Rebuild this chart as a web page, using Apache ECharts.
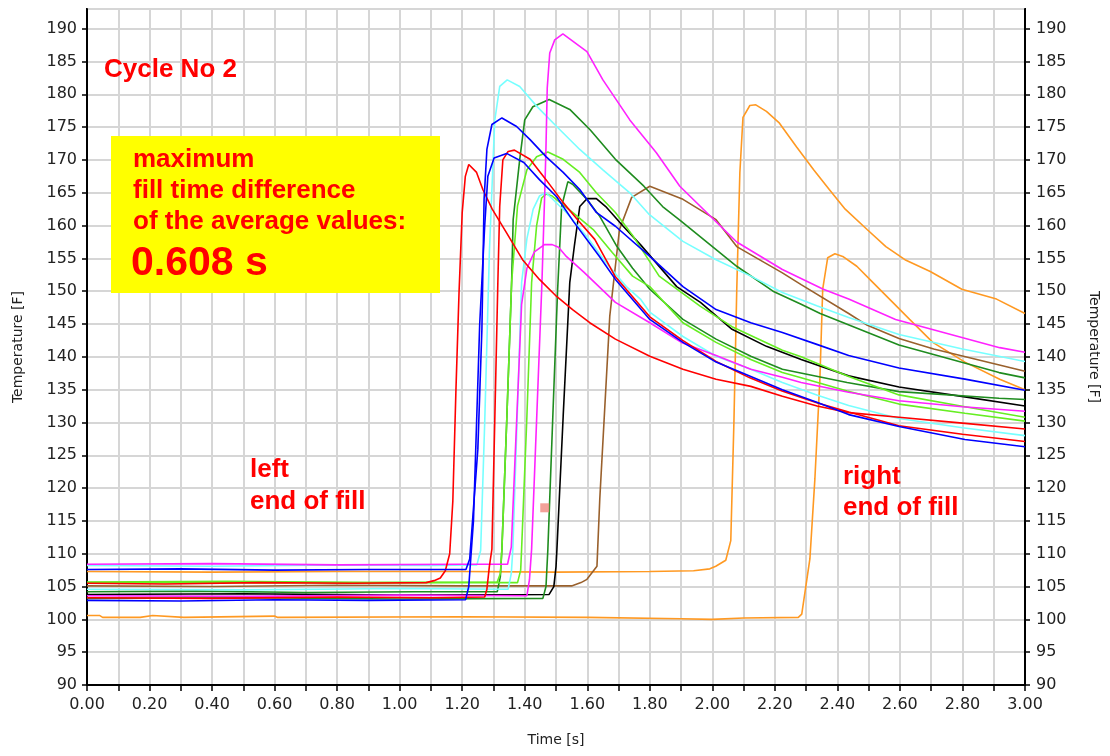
<!DOCTYPE html>
<html>
<head>
<meta charset="utf-8">
<title>Cycle No 2</title>
<script src="https://cdn.jsdelivr.net/npm/echarts@6/dist/echarts.min.js"></script>
<style>
  html, body { margin: 0; padding: 0; background: #fff; }
  #chart { width: 1110px; height: 756px; }
</style>
</head>
<body>
<div id="chart"></div>
<script>
// temperature curves, [time s, temperature F]
const orangeA = [[0,100.6],[0.04,100.6],[0.05,100.3],[0.17,100.3],[0.175,100.6],[0.21,100.6],[0.215,100.3],[0.31,100.3],[0.315,100.5],[0.6,100.5],[0.61,100.3],[1.2,100.4],[1.6,100.3],[1.9,100.1],[2.0,100.0],[2.1,100.2],[2.275,100.3],[2.286,100.8],[2.312,109.2],[2.328,121.4],[2.344,136.6],[2.353,150.3],[2.369,155.1],[2.392,155.7],[2.417,155.3],[2.462,153.8],[2.514,151.3],[2.577,148.3],[2.631,145.7],[2.705,142.2],[2.808,139.2],[2.919,136.6],[3.0,135.0]];
const orangeB = [[0,107.3],[0.4,107.2],[0.8,107.3],[1.2,107.3],[1.5,107.2],[1.8,107.3],[1.94,107.4],[1.992,107.7],[2.011,108.1],[2.043,109],[2.059,112],[2.069,130],[2.078,150],[2.088,168],[2.098,176.5],[2.12,178.3],[2.139,178.4],[2.173,177.4],[2.213,175.7],[2.269,172],[2.324,168.5],[2.374,165.5],[2.425,162.5],[2.495,159.4],[2.555,156.8],[2.616,154.8],[2.697,153],[2.798,150.3],[2.909,148.8],[3.0,146.6]];
const brown = [[0,105.1],[0.4,105.0],[0.8,105.2],[1.2,105.1],[1.55,105.1],[1.58,105.6],[1.599,106.1],[1.631,108.1],[1.64,118.3],[1.672,146.2],[1.703,159.4],[1.742,164.3],[1.8,166],[1.906,164],[2.012,160.9],[2.078,156.8],[2.224,152.8],[2.284,151.0],[2.436,146.6],[2.496,144.8],[2.597,142.8],[2.708,141.2],[3.0,137.8]];
const black = [[0,103.8],[0.5,103.9],[1.0,103.7],[1.478,103.8],[1.493,105],[1.5,108],[1.503,110.7],[1.523,131],[1.544,151.3],[1.559,157],[1.576,162.9],[1.599,164.1],[1.629,164.1],[1.659,162.9],[1.715,159.9],[1.77,157.1],[1.886,150.7],[1.962,148.3],[2.063,144.2],[2.173,141.6],[2.284,139.6],[2.436,137.1],[2.597,135.4],[2.808,133.9],[3.0,132.5]];
const greenA = [[0,104.2],[0.35,104.3],[0.7,104.1],[1.05,104.2],[1.312,104.2],[1.322,106.5],[1.327,110.7],[1.343,131],[1.358,151.3],[1.363,160.9],[1.384,170.1],[1.4,176.1],[1.426,178.1],[1.478,179.2],[1.544,177.7],[1.609,174.6],[1.69,170.1],[1.781,166],[1.841,162.9],[1.897,160.8],[2.078,153.8],[2.194,150.0],[2.284,148.0],[2.345,146.6],[2.597,141.8],[2.917,137.6],[3.0,136.8]];
const greenB = [[0,103.2],[0.5,103.3],[1.0,103.1],[1.458,103.2],[1.468,105],[1.474,110.7],[1.493,135],[1.505,150],[1.518,162.9],[1.538,166.7],[1.553,166.3],[1.599,164],[1.64,161.4],[1.695,156.8],[1.745,153.5],[1.8,150.3],[1.906,145.7],[2.012,142.7],[2.123,140.1],[2.224,138.1],[2.431,136.1],[2.597,134.7],[2.917,133.7],[3.0,133.5]];
const limeA = [[0,105.7],[0.45,105.8],[0.9,105.6],[1.312,105.7],[1.322,107],[1.327,110.7],[1.343,131],[1.358,151.3],[1.377,163],[1.407,168.5],[1.438,170.5],[1.474,171.2],[1.523,170.1],[1.576,168.1],[1.629,165],[1.69,162],[1.745,158.5],[1.83,152.3],[1.962,147.7],[2.063,144.6],[2.224,141.0],[2.284,140.0],[2.436,137.0],[2.597,134.2],[2.808,132.4],[3.0,130.8]];
const limeB = [[0,105.6],[1.377,105.6],[1.387,107.5],[1.39,110.7],[1.407,131],[1.422,151.3],[1.438,160],[1.454,164.2],[1.468,164.8],[1.488,164.5],[1.553,162],[1.619,159.4],[1.68,155.9],[1.745,152.3],[1.8,150.7],[1.906,145.2],[2.012,142.2],[2.123,139.6],[2.224,137.6],[2.284,136.8],[2.431,134.8],[2.597,132.8],[2.808,131.4],[3.0,130.2]];
const cyanA = [[0,108.2],[0.4,108.1],[0.8,108.3],[1.1,108.2],[1.247,108.3],[1.259,110.5],[1.272,130],[1.287,156],[1.304,176],[1.32,181.2],[1.344,182.2],[1.384,181.2],[1.438,178.2],[1.502,175.1],[1.576,171.6],[1.65,168.5],[1.736,165],[1.796,161.8],[1.906,157.6],[2.012,154.8],[2.123,152.3],[2.224,149.8],[2.334,147.8],[2.436,146.0],[2.597,143.4],[2.8,141.2],[3.0,139.3]];
const cyanB = [[0,104.6],[0.5,104.5],[1.0,104.7],[1.347,104.6],[1.357,107],[1.362,110.7],[1.39,151.3],[1.407,158],[1.427,162.5],[1.447,164.5],[1.468,165],[1.533,162],[1.599,158.3],[1.659,154.4],[1.725,150.7],[1.77,148.8],[1.8,146.8],[1.906,143.1],[2.012,140.1],[2.123,138.1],[2.224,136.1],[2.334,134.2],[2.436,132.6],[2.597,130.6],[2.8,129.2],[3.0,128.0]];
const magentaA = [[0,103.6],[0.5,103.5],[1.0,103.7],[1.407,103.6],[1.415,106],[1.422,110.7],[1.455,151.3],[1.464,165],[1.468,172],[1.472,181],[1.48,186.3],[1.496,188.3],[1.522,189.2],[1.599,186.5],[1.65,182.2],[1.736,176.1],[1.821,171.1],[1.896,166],[2.078,157.5],[2.224,153.3],[2.355,150.3],[2.436,148.8],[2.586,145.7],[2.919,141.4],[3.0,140.7]];
const magentaB = [[0,108.4],[0.4,108.5],[0.8,108.3],[1.2,108.4],[1.345,108.4],[1.357,111],[1.39,148],[1.407,153.5],[1.431,156],[1.463,157.1],[1.488,157.1],[1.508,156.7],[1.533,155.3],[1.589,152.9],[1.69,148.3],[1.8,145.2],[1.901,142.2],[2.012,140.2],[2.123,138.1],[2.224,136.9],[2.284,136.1],[2.436,134.6],[2.597,133.3],[2.8,132.4],[3.0,131.7]];
const redA = [[0,105.5],[0.25,105.4],[0.55,105.6],[0.85,105.5],[1.085,105.6],[1.11,105.9],[1.13,106.3],[1.146,107.4],[1.16,110],[1.17,118],[1.18,135],[1.19,150],[1.2,162],[1.21,167.5],[1.221,169.3],[1.246,168.1],[1.266,165.5],[1.296,162.5],[1.342,158.9],[1.393,154.8],[1.447,151.8],[1.502,149.2],[1.553,147.2],[1.608,145.2],[1.69,142.7],[1.8,140.1],[1.906,138.1],[2.012,136.6],[2.123,135.5],[2.224,134.0],[2.335,132.5],[2.436,131.5],[2.597,130.8],[2.8,129.9],[3.0,129.0]];
const redB = [[0,103.3],[0.4,103.2],[0.8,103.4],[1.1,103.3],[1.272,103.4],[1.279,104.6],[1.287,108.1],[1.295,110.7],[1.314,151.3],[1.32,162.9],[1.33,170],[1.347,171.3],[1.367,171.5],[1.417,170.1],[1.468,167],[1.523,163.5],[1.569,160.9],[1.624,157.9],[1.69,152.2],[1.8,146.1],[1.905,142.5],[2.012,139.3],[2.12,136.8],[2.223,134.8],[2.334,133.0],[2.436,131.6],[2.597,129.5],[2.8,128.2],[3.0,127.1]];
const blueA = [[0,107.6],[0.3,107.7],[0.6,107.5],[0.9,107.6],[1.212,107.6],[1.224,109.2],[1.25,125.9],[1.263,144.2],[1.27,164],[1.279,171.6],[1.295,175.4],[1.327,176.4],[1.374,175.1],[1.417,173.1],[1.468,170.5],[1.523,168.1],[1.576,165.5],[1.629,162],[1.69,159.9],[1.8,155.3],[1.906,150.7],[2.012,147.2],[2.123,145.2],[2.224,143.7],[2.334,141.9],[2.436,140.2],[2.597,138.3],[2.808,136.6],[3.0,134.9]];
const blueB = [[0,102.9],[0.3,102.8],[0.6,103.0],[0.9,102.9],[1.211,103.0],[1.221,105],[1.236,115],[1.246,130],[1.256,145],[1.272,160],[1.282,167.5],[1.302,170.3],[1.342,171],[1.397,169.6],[1.447,167],[1.502,164.4],[1.556,160.6],[1.639,155.3],[1.69,151.8],[1.8,145.7],[1.906,142.2],[2.012,139.2],[2.123,137.0],[2.224,135.0],[2.334,133.1],[2.436,131.2],[2.597,129.4],[2.808,127.4],[3.0,126.3]];
const marker = [[1.464, 117.0]];

const curves = [
  { d: orangeA, c: '#ff9922' }, { d: orangeB, c: '#ff9922' },
  { d: brown, c: '#99602c' }, { d: black, c: '#000000' },
  { d: greenA, c: '#1f8c1f' }, { d: greenB, c: '#1f8c1f' },
  { d: limeA, c: '#66ee22' }, { d: limeB, c: '#66ee22' },
  { d: cyanA, c: '#77ffff' }, { d: cyanB, c: '#77ffff' },
  { d: magentaA, c: '#ff22ff' }, { d: magentaB, c: '#ff22ff' },
  { d: redA, c: '#ff0000' }, { d: redB, c: '#ff0000' },
  { d: blueA, c: '#0000ff' }, { d: blueB, c: '#0000ff' }
];

const tickFont = { fontFamily: 'DejaVu Sans', fontSize: 16, color: '#222' };
const gridLine = { show: true, lineStyle: { color: '#d6d6d6', width: 2 } };
const blackLine = { show: true, lineStyle: { color: '#000', width: 2 } };
const redText = 'Arial, "Liberation Sans", sans-serif';

const chart = echarts.init(document.getElementById('chart'));
chart.setOption({
  animation: false,
  grid: { left: 87, right: 85, top: 9, bottom: 71, show: true, borderColor: '#000', borderWidth: 2 },
  xAxis: {
    type: 'value', min: 0, max: 3, interval: 0.2,
    name: 'Time [s]', nameLocation: 'middle', nameGap: 48,
    nameTextStyle: { fontFamily: 'DejaVu Sans', fontSize: 14, color: '#222' },
    axisLine: blackLine,
    axisTick: { show: true, length: 6, lineStyle: { color: '#000', width: 1.5 } },
    minorTick: { show: true, splitNumber: 2, length: 6, lineStyle: { color: '#000', width: 1.5 } },
    splitLine: gridLine,
    minorSplitLine: gridLine,
    axisLabel: Object.assign({ margin: 12, formatter: v => v.toFixed(2) }, tickFont)
  },
  yAxis: [{
    type: 'value', min: 90, max: 193, interval: 5, position: 'left',
    name: 'Temperature [F]', nameLocation: 'middle', nameGap: 62, nameRotate: 90,
    nameTextStyle: { fontFamily: 'DejaVu Sans', fontSize: 14, color: '#222' },
    axisLine: blackLine,
    axisTick: { show: true, length: 5, lineStyle: { color: '#000', width: 1.5 } },
    splitLine: gridLine,
    axisLabel: Object.assign({ margin: 10, showMaxLabel: false }, tickFont)
  }, {
    type: 'value', min: 90, max: 193, interval: 5, position: 'right',
    name: 'Temperature [F]', nameLocation: 'middle', nameGap: 62, nameRotate: -90,
    nameTextStyle: { fontFamily: 'DejaVu Sans', fontSize: 14, color: '#222' },
    axisLine: blackLine,
    axisTick: { show: true, length: 5, lineStyle: { color: '#000', width: 1.5 } },
    splitLine: { show: false },
    axisLabel: Object.assign({ margin: 11, showMaxLabel: false }, tickFont)
  }],
  series: curves.map(k => ({
    type: 'line', data: k.d, showSymbol: false, symbol: 'none',
    lineStyle: { color: k.c, width: 1.6 }, itemStyle: { color: k.c }
  })).concat([{
    type: 'scatter', data: marker, symbol: 'rect', symbolSize: 9,
    itemStyle: { color: '#f08a80' }, z: 5
  }]),
  graphic: [
    { type: 'text', x: 104, y: 70, z: 10, style: { text: 'Cycle No 2', font: 'bold 26px ' + redText, fill: '#ff0000', verticalAlign: 'middle' } },
    { type: 'rect', shape: { x: 111, y: 136, width: 329, height: 157 }, z: 9, style: { fill: '#ffff00' } },
    { type: 'text', x: 133, y: 160, z: 10, style: { text: 'maximum', font: 'bold 26px ' + redText, fill: '#ff0000', verticalAlign: 'middle' } },
    { type: 'text', x: 133, y: 191, z: 10, style: { text: 'fill time difference', font: 'bold 26px ' + redText, fill: '#ff0000', verticalAlign: 'middle' } },
    { type: 'text', x: 133, y: 222, z: 10, style: { text: 'of the average values:', font: 'bold 26px ' + redText, fill: '#ff0000', verticalAlign: 'middle' } },
    { type: 'text', x: 131, y: 264, z: 10, style: { text: '0.608 s', font: 'bold 41px ' + redText, fill: '#ff0000', verticalAlign: 'middle' } },
    { type: 'text', x: 250, y: 470, z: 10, style: { text: 'left', font: 'bold 26px ' + redText, fill: '#ff0000', verticalAlign: 'middle' } },
    { type: 'text', x: 250, y: 502, z: 10, style: { text: 'end of fill', font: 'bold 26px ' + redText, fill: '#ff0000', verticalAlign: 'middle' } },
    { type: 'text', x: 843, y: 477, z: 10, style: { text: 'right', font: 'bold 26px ' + redText, fill: '#ff0000', verticalAlign: 'middle' } },
    { type: 'text', x: 843, y: 508, z: 10, style: { text: 'end of fill', font: 'bold 26px ' + redText, fill: '#ff0000', verticalAlign: 'middle' } }
  ]
});
</script>
</body>
</html>
